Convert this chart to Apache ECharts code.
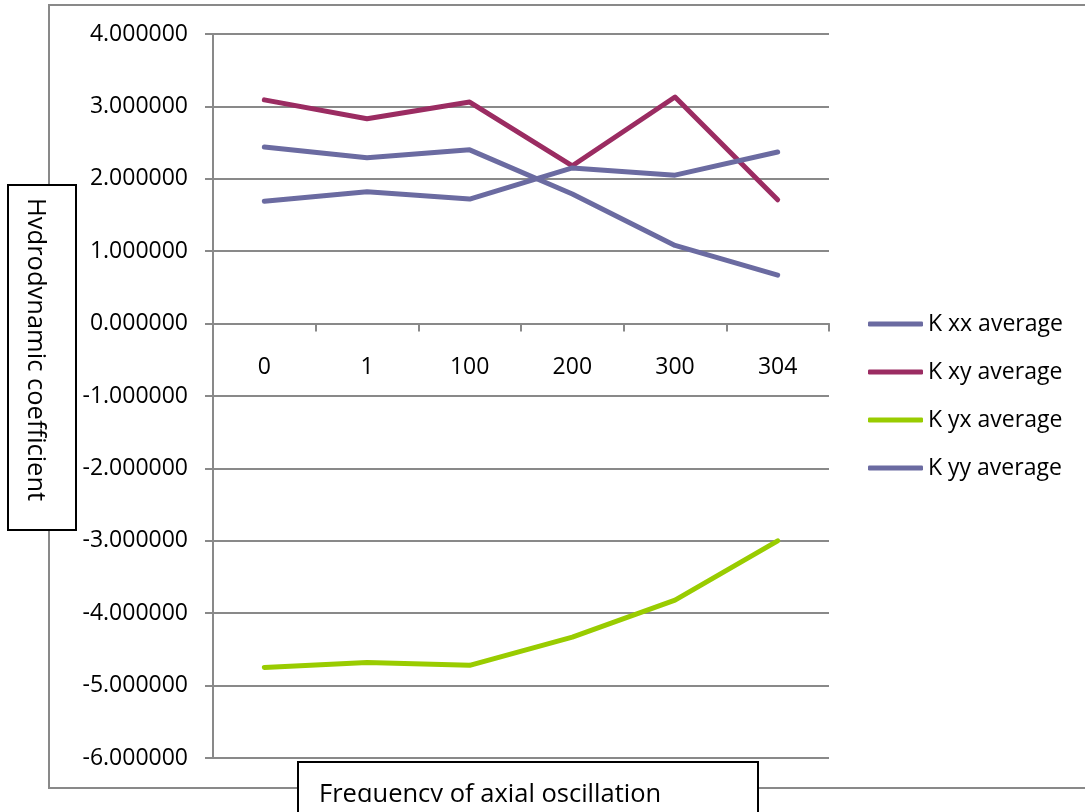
<!DOCTYPE html>
<html>
<head>
<meta charset="utf-8">
<script src="https://cdn.jsdelivr.net/npm/echarts@6/dist/echarts.min.js"></script>
<style>
  html, body { margin: 0; padding: 0; background: #fff; }
  #chart { width: 1085px; height: 812px; }
</style>
</head>
<body>
<div id="chart"></div>
<script>
// Frequencies of axial oscillation (category axis)
const categories = ['0', '1', '100', '200', '300', '304'];

// Averaged hydrodynamic stiffness coefficients
const kxx = [2.44, 2.29, 2.40, 1.79, 1.08, 0.67];
const kxy = [3.09, 2.83, 3.06, 2.18, 3.13, 1.71];
const kyx = [-4.75, -4.68, -4.72, -4.33, -3.82, -3.00];
const kyy = [1.69, 1.82, 1.72, 2.15, 2.05, 2.37];

const seriesNames = ['K xx average', 'K xy average', 'K yx average', 'K yy average'];
const seriesColors = ['#6b6ba1', '#9b2c62', '#99cc00', '#6b6ba1'];

const FONT = 'Open Sans';
const GRID_COLOR = '#898989';
const TITLE_SIZE = 25.5;

const GRID_TOP = 34, GRID_BOTTOM = 54, CHART_H = 812;
const Y_MIN = -6, Y_MAX = 4;

// distance from the text's middle line down to its alphabetic baseline
function baselineOffset(size) {
  const ctx = document.createElement('canvas').getContext('2d');
  ctx.font = size + 'px "' + FONT + '"';
  ctx.textBaseline = 'middle';
  return ctx.measureText('H').actualBoundingBoxDescent;
}

const chart = echarts.init(document.getElementById('chart'), null, { renderer: 'canvas' });

function lineSeries(name, data, color) {
  return {
    name: name,
    type: 'line',
    data: data,
    symbol: 'none',
    lineStyle: { color: color, width: 5, cap: 'round', join: 'round' },
    itemStyle: { color: color },
    z: 3
  };
}

function build() {
  const d = baselineOffset(TITLE_SIZE);
  // the category axis sits on the zero line of the value axis
  const plotH = CHART_H - GRID_TOP - GRID_BOTTOM;
  const zeroShift = -plotH * (0 - Y_MIN) / (Y_MAX - Y_MIN);

  const option = {
    animation: false,
    backgroundColor: '#ffffff',
    grid: { left: 213, right: 256, top: GRID_TOP, bottom: GRID_BOTTOM, containLabel: false },
    legend: {
      orient: 'vertical',
      left: 868,
      top: 312,
      padding: 0,
      icon: 'roundRect',
      itemWidth: 55,
      itemHeight: 5,
      itemGap: 24,
      textStyle: { fontFamily: FONT, fontSize: 23, color: '#000', lineHeight: 24 },
      data: seriesNames
    },
    xAxis: {
      type: 'category',
      data: categories,
      boundaryGap: true,
      position: 'bottom',
      offset: zeroShift,
      axisLine: { onZero: false, lineStyle: { color: GRID_COLOR, width: 2 } },
      axisTick: { show: true, length: 8, alignWithLabel: false, lineStyle: { color: GRID_COLOR, width: 2 } },
      axisLabel: { fontFamily: FONT, fontSize: 23, color: '#000', margin: 32 },
      splitLine: { show: false }
    },
    yAxis: {
      type: 'value',
      min: Y_MIN,
      max: Y_MAX,
      interval: 1,
      axisLine: { show: true, lineStyle: { color: GRID_COLOR, width: 2 } },
      axisTick: { show: true, length: 8, lineStyle: { color: GRID_COLOR, width: 2 } },
      axisLabel: {
        fontFamily: FONT, fontSize: 23, color: '#000', margin: 25,
        formatter: function (v) { return v.toFixed(6); }
      },
      splitLine: { show: true, lineStyle: { color: GRID_COLOR, width: 2 } }
    },
    series: [
      lineSeries(seriesNames[0], kxx, seriesColors[0]),
      lineSeries(seriesNames[1], kxy, seriesColors[1]),
      lineSeries(seriesNames[2], kyx, seriesColors[2]),
      lineSeries(seriesNames[3], kyy, seriesColors[3])
    ],
    graphic: [
      // outer chart frame
      {
        type: 'rect', z: 0, silent: true,
        shape: { x: 49, y: 5, width: 1100, height: 783 },
        style: { fill: 'none', stroke: GRID_COLOR, lineWidth: 2 }
      },
      // y-axis title box
      {
        type: 'rect', z: 10, silent: true,
        shape: { x: 8, y: 185, width: 68, height: 345 },
        style: { fill: '#fff', stroke: '#000', lineWidth: 2 }
      },
      {
        type: 'text', z: 11, silent: true,
        x: 28 + d, y: 198, rotation: -Math.PI / 2,
        style: {
          text: 'Hydrodynamic coefficient',
          fontFamily: FONT, fontSize: TITLE_SIZE, fill: '#000',
          align: 'left', verticalAlign: 'middle'
        }
      },
      // the text box is too narrow: glyph parts past the baseline are cut off
      {
        type: 'rect', z: 12, silent: true,
        shape: { x: 9.5, y: 187, width: 18.5, height: 341 },
        style: { fill: '#fff' }
      },
      // x-axis title box
      {
        type: 'rect', z: 10, silent: true,
        shape: { x: 298, y: 762, width: 460, height: 70 },
        style: { fill: '#fff', stroke: '#000', lineWidth: 2 }
      },
      {
        type: 'text', z: 11, silent: true,
        x: 319, y: 802 - d,
        style: {
          text: 'Frequency of axial oscillation',
          fontFamily: FONT, fontSize: TITLE_SIZE, fill: '#000',
          align: 'left', verticalAlign: 'middle'
        }
      },
      {
        type: 'rect', z: 12, silent: true,
        shape: { x: 299.5, y: 802, width: 457, height: 20 },
        style: { fill: '#fff' }
      }
    ]
  };
  chart.setOption(option);
}

if (document.fonts && document.fonts.load) {
  document.fonts.load(TITLE_SIZE + 'px "' + FONT + '"').then(build, build);
} else {
  build();
}
</script>
</body>
</html>
